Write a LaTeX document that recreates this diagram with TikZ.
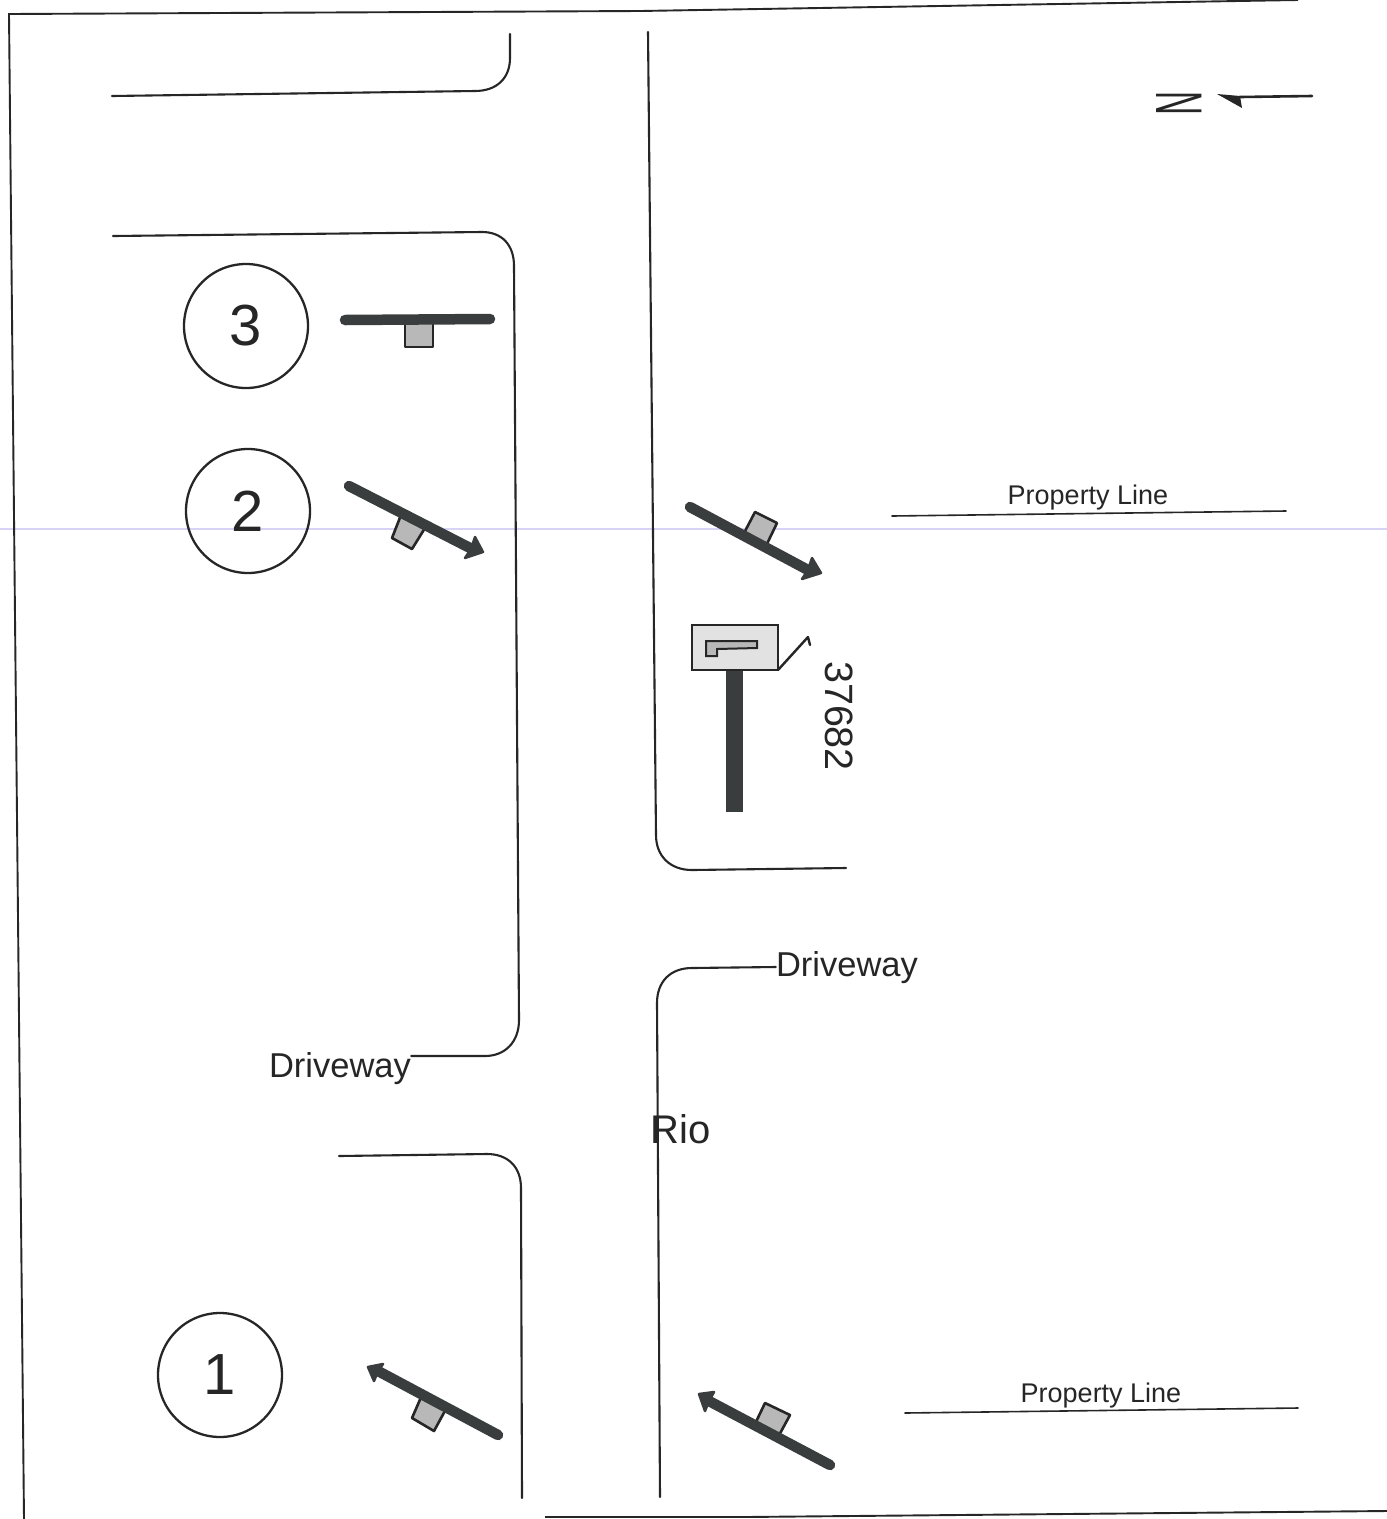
\documentclass[tikz,border=0pt]{standalone}
\usepackage{fontspec}
\setmainfont{Liberation Sans}
\definecolor{ink}{HTML}{262626}
\definecolor{bar}{HTML}{3A3D3E}
\definecolor{signfill}{HTML}{B8B8B8}
\definecolor{boxfill}{HTML}{E2E2E2}
\definecolor{scanline}{HTML}{D6D3F6}
\tikzset{
  road/.style={draw=ink,line width=2.1pt,line cap=round},
  frameline/.style={draw=ink,line width=1.9pt},
  signbar/.style={draw=bar,line width=10.5pt,line cap=round},
  signhead/.style={fill=bar,draw=bar,line width=2.5pt,line join=round},
  signplate/.style={fill=signfill,draw=ink,line width=2.6pt,line join=round},
  numcircle/.style={circle,draw=ink,line width=2.3pt,minimum size=124pt,inner sep=0pt,font=\fontsize{58}{58}\selectfont,text=ink},
  drivelabel/.style={inner sep=0pt,font=\fontsize{34.5}{34.5}\selectfont,text=ink},
  proplabel/.style={inner sep=0pt,font=\fontsize{27}{27}\selectfont,text=ink},
}
\begin{document}
\begin{tikzpicture}[x=1pt,y=-1pt]
\useasboundingbox (0,0) rectangle (1387,1519);
\fill[white] (0,0) rectangle (1387,1519);
% faint scan line
\draw[scanline,line width=1.1pt] (0,529) -- (1387,529);
% page frame
\draw[frameline] (1298,0) -- (640,11) -- (9,14) -- (24,1519);
\draw[frameline] (545,1517) -- (745,1517) -- (1387,1511);
% labels
\node[drivelabel] (drvright) at (847,968) {Driveway};
\node[drivelabel] (drvleft) at (340,1069) {Driveway};
\node[proplabel] (propa) at (1088,498) {Property Line};
\node[proplabel] (propb) at (1101,1396) {Property Line};
\node[inner sep=0pt,font=\fontsize{40}{40}\selectfont,text=ink] (rio) at (681,1129) {Rio};
\node[inner sep=0pt,rotate=-90,font=\fontsize{39.5}{39.5}\selectfont,text=ink] (house) at (839,716) {37682};
% roads
\draw[road] (112,96) -- (475,91) .. controls (497,91) and (510,78) .. (510,58) -- (510,34);
\draw[road] (113,236) -- (482,232) .. controls (502,232) and (514,245) .. (514,266)
  -- (519,1020) .. controls (519,1042) and (505,1056) .. (485,1056) -- (drvleft.east |- 0,1056);
\draw[road] (339,1156) -- (487,1154) .. controls (508,1154) and (521,1167) .. (521,1188) -- (522,1498);
\draw[road] (648,32) -- (656,835) .. controls (656,856) and (670,870) .. (692,870) -- (846,868);
\draw[road] (drvright.west |- 0,967) -- (692,968) .. controls (670,968) and (657,982) .. (657,1003) -- (660,1497);
% property lines
\draw[road,line width=1.6pt] (892,516) -- (1286,511);
\draw[road,line width=1.6pt] (905,1413) -- (1298,1408);
% circles
\node[numcircle] (c3) at (246,326) {3};
\node[numcircle] (c2) at (248,511) {2};
\node[numcircle] (c1) at (220,1375) {1};
% sign 3
\draw[signplate] (405,320) -- (433,320) -- (433,347) -- (405,347) -- cycle;
\draw[signbar] (345,320) -- (490,319);
% sign 2
\draw[signplate] (401,515) -- (425,528) -- (412,549) -- (392,538) -- cycle;
\draw[signbar] (349,486) -- (472,549);
\draw[signhead] (483,552) -- (465,558) -- (471,549) -- (475,537) -- cycle;
% sign right
\draw[signplate] (755,512) -- (777,523) -- (765,548) -- (743,535) -- cycle;
\draw[signbar] (690,507) -- (808,570);
\draw[signhead] (821,573) -- (802,579) -- (808,570) -- (812,558) -- cycle;
% sign 1
\draw[signplate] (422,1395) -- (446,1409) -- (434,1431) -- (412,1418) -- cycle;
\draw[signbar] (498,1435) -- (378,1371);
\draw[signhead] (368,1367) -- (383,1364) -- (378,1371) -- (374,1381) -- cycle;
% sign bottom right
\draw[signplate] (765,1403) -- (790,1415) -- (777,1439) -- (754,1426) -- cycle;
\draw[signbar] (830,1465) -- (709,1401);
\draw[signhead] (699,1394) -- (714,1392) -- (709,1401) -- (705,1411) -- cycle;
% mailbox
\draw[bar,fill=bar] (726,671) rectangle (742,811);
\draw[draw=ink,line width=2.6pt,fill=boxfill] (692,625) rectangle (778,670);
\draw[draw=ink,line width=2pt,fill=signfill,line join=miter] (706,641) -- (757,641) -- (757,648) -- (717,649) -- (717,656) -- (706,656) -- cycle;
\draw[ink,line width=2.4pt,line join=round,line cap=round] (778,670) -- (808,637) -- (810,645);
% north mark
\node[inner sep=0pt,rotate=-90,font=\fontsize{66}{66}\selectfont,text=ink] (north) at (1179,103) {\scalebox{0.5}[1]{N}};
\coordinate (ntail) at (1312,96);
\coordinate (nbase) at (1240,97);
\draw[ink,line width=2.6pt,line cap=round] (ntail) -- (nbase);
\fill[ink] (1217,94) -- (1240,96) -- (1242,108) -- cycle;
\end{tikzpicture}
\end{document}
